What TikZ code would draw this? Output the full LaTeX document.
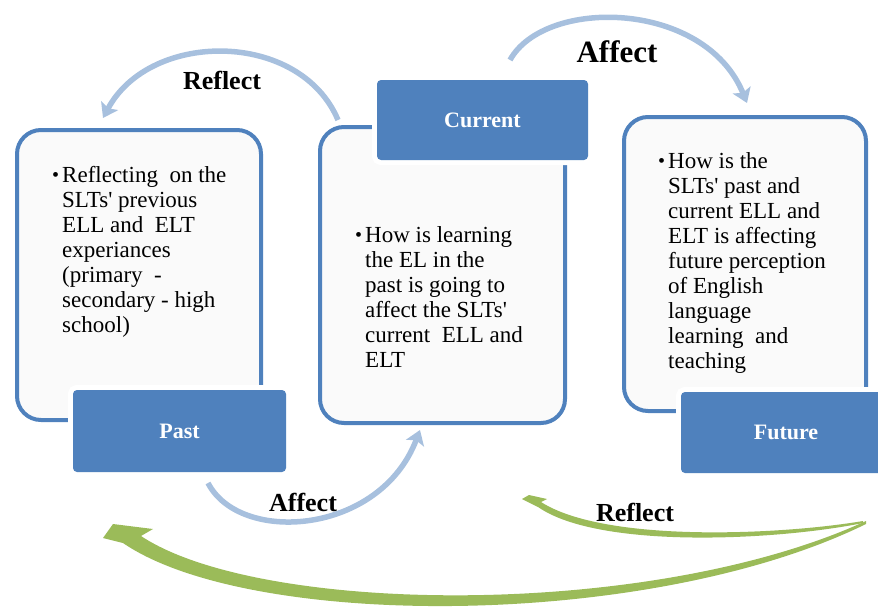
\documentclass[tikz,border=0pt]{standalone}
\usepackage{fontspec}
\setmainfont{Liberation Serif}
\usetikzlibrary{arrows.meta}
\definecolor{boxblue}{RGB}{79,129,189}
\definecolor{arcblue}{RGB}{167,192,222}
\definecolor{arcgreen}{RGB}{155,187,89}
\newcommand{\bul}{\leavevmode\llap{\raisebox{1pt}{\fontsize{20}{20}\selectfont\textbullet}\hspace{3pt}}}
\newcommand{\apo}{\textquotesingle}
\begin{document}
\begin{tikzpicture}[x=1pt,y=-1pt,
  whitebox/.style={draw=boxblue, line width=4pt, fill=white!98!black, rounded corners=24pt, inner sep=0pt},
  labelbox/.style={fill=boxblue, rounded corners=4pt, text=white, inner sep=0pt,
    font=\fontsize{22}{26}\selectfont\bfseries, preaction={draw=white, line width=10pt}},
  bodytext/.style={anchor=base west, inner sep=0pt, font=\fontsize{23}{25}\selectfont\rmfamily},
  arclabel/.style={inner sep=0pt, font=\fontsize{26}{30}\selectfont\bfseries},
  bluearc/.style={draw=arcblue, line width=5.5pt, -{Stealth[length=14pt,width=19pt,inset=3pt]}},
  greenarrow/.style={fill=arcgreen, draw=none}]
\useasboundingbox (0,0) rectangle (878,610);

% arc end points
\coordinate (r1s) at (338,120);
\coordinate (r1e) at (103,118);
\coordinate (a1s) at (510,60);
\coordinate (a1e) at (747,103);
\coordinate (a2s) at (208,483);
\coordinate (a2e) at (420,430);

% light blue arcs
\draw[bluearc] (r1s) .. controls (300,30) and (150,30) .. (r1e);
\draw[bluearc] (a1s) .. controls (545,-3) and (705,0) .. (a1e);
\draw[bluearc] (a2s) .. controls (240,545) and (380,535) .. (a2e);

% green arrows
\fill[greenarrow] (866,524) .. controls (650,630) and (250,630) .. (123,543)
  -- (103,538) -- (113,524) -- (153,529) -- (141,536)
  .. controls (260,615) and (650,620) .. (866,521) -- cycle;
\fill[greenarrow] (863,523) .. controls (780,540) and (600,550) .. (538,507)
  -- (522,499) -- (529,495) -- (547,499) -- (541,502)
  .. controls (605,543) and (780,535) .. (863,521) -- cycle;

% white boxes
\node[whitebox, minimum width=244pt, minimum height=290pt] (pastbox) at (139,275) {};
\node[whitebox, minimum width=245pt, minimum height=296pt] (curbox) at (442.5,275) {};
\node[whitebox, minimum width=242pt, minimum height=294pt] (futbox) at (745,264) {};

% labels
\node[labelbox, minimum width=213pt, minimum height=82pt] (past) at (179.5,431) {Past};
\node[labelbox, minimum width=211pt, minimum height=80pt] (cur) at (482.5,120) {Current};
\node[labelbox, minimum width=210pt, minimum height=81pt] (fut) at (786,432.5) {Future};

% body texts
\node[bodytext] (pasttext) at (62,182) {\parbox[t]{210pt}{\raggedright
  \bul Reflecting\ \ on the\\
  SLTs\apo{} previous\\
  ELL and\ \ ELT\\
  experiances\\
  (primary\ \ -\\
  secondary - high\\
  school)}};
\node[bodytext] (curtext) at (365,242) {\parbox[t]{200pt}{\raggedright
  \bul How is learning\\
  the EL in the\\
  past is going to\\
  affect the SLTs\apo\\
  current\ \ ELL and\\
  ELT}};
\node[bodytext] (futtext) at (668,168) {\parbox[t]{200pt}{\raggedright
  \bul How is the\\
  SLTs\apo{} past and\\
  current ELL and\\
  ELT is affecting\\
  future perception\\
  of English\\
  language\\
  learning\ \ and\\
  teaching}};

% arc labels
\node[arclabel] (lreflect1) at (222,80) {Reflect};
\node[arclabel, font=\fontsize{31}{34}\selectfont\bfseries] (laffect1) at (617,52) {Affect};
\node[arclabel] (laffect2) at (303,502) {Affect};
\node[arclabel] (lreflect2) at (635,512) {Reflect};
\end{tikzpicture}
\end{document}
